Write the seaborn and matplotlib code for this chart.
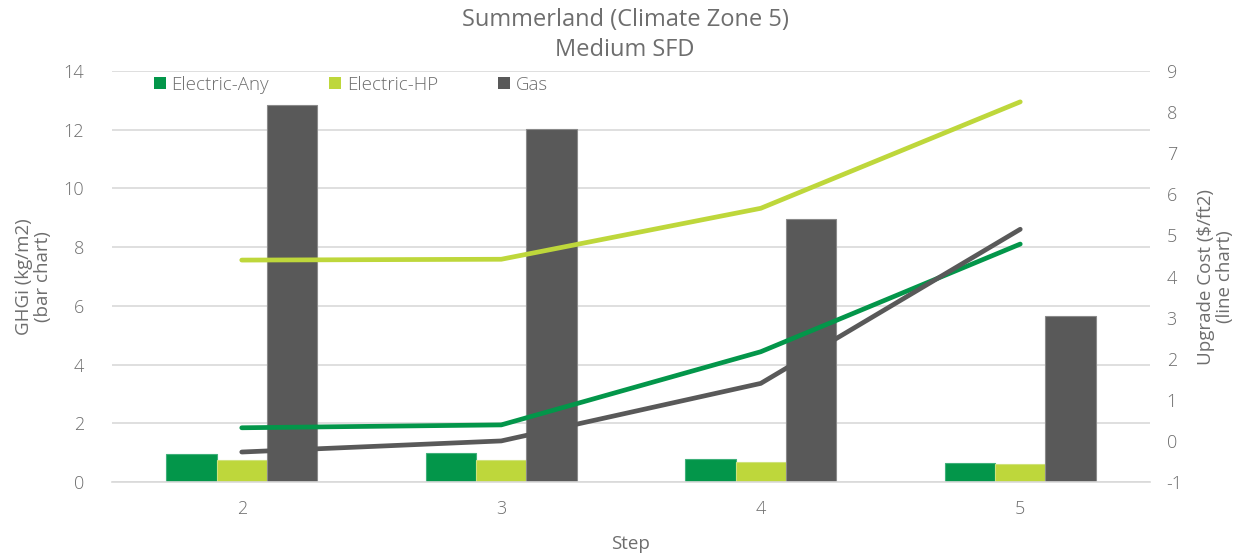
import numpy as np
import pandas as pd
import matplotlib
matplotlib.use("Agg")
import matplotlib.pyplot as plt
from matplotlib.patches import Patch
import seaborn as sns

# Step labels and series
steps = ["2", "3", "4", "5"]
series = ["Electric-Any", "Electric-HP", "Gas"]

# GHG intensity (kg/m2) - bars
ghgi_electric_any = [0.95, 0.98, 0.77, 0.64]
ghgi_electric_hp = [0.75, 0.75, 0.68, 0.60]
ghgi_gas = [12.83, 12.02, 8.95, 5.65]

# Upgrade cost ($/ft2) - lines
cost_electric_any = [0.32, 0.39, 2.17, 4.79]
cost_electric_hp = [4.40, 4.42, 5.66, 8.25]
cost_gas = [-0.27, 0.00, 1.40, 5.15]

left_ticks = [0, 2, 4, 6, 8, 10, 12, 14]
right_ticks = [-1, 0, 1, 2, 3, 4, 5, 6, 7, 8, 9]

colors = {"Electric-Any": "#03964A", "Electric-HP": "#BED73B", "Gas": "#595959"}
edge_colors = {"Electric-Any": "#3FB07A", "Electric-HP": "#CFE27A", "Gas": "#8A8A8A"}
text_color = "#6E6E6E"

sns.set_theme(style="white")
plt.rcParams["font.family"] = ["Open Sans", "DejaVu Sans"]
plt.rcParams["font.weight"] = "light"
plt.rcParams["axes.unicode_minus"] = False

bars = pd.DataFrame({
    "Step": steps * 3,
    "Series": np.repeat(series, len(steps)),
    "GHGi": ghgi_electric_any + ghgi_electric_hp + ghgi_gas,
})
lines = {
    "Electric-Any": cost_electric_any,
    "Electric-HP": cost_electric_hp,
    "Gas": cost_gas,
}

fig = plt.figure(figsize=(12.5, 5.57), dpi=100)
ax = fig.add_axes([0.0896, 0.1346, 0.8304, 0.7379])

sns.barplot(data=bars, x="Step", y="GHGi", hue="Series", order=steps,
            hue_order=series, palette=colors, width=0.58, ax=ax,
            legend=False, saturation=1)
for container, name in zip(ax.containers, series):
    for patch in container:
        patch.set_edgecolor(edge_colors[name])
        patch.set_linewidth(0.8)

ax.set_ylim(0, 14)
ax.set_yticks(left_ticks)
ax.set_xlim(-0.5, len(steps) - 0.5)
ax.yaxis.grid(True, color="#D9D9D9", linewidth=1.2)
ax.set_axisbelow(True)
for s in ["top", "left", "right"]:
    ax.spines[s].set_visible(False)
ax.spines["bottom"].set_color("#D9D9D9")
ax.spines["bottom"].set_linewidth(1.2)
ax.tick_params(axis="both", length=0, colors=text_color, labelsize=13, pad=20)
ax.tick_params(axis="x", pad=13)
ax.set_ylabel("GHGi (kg/m2)\n(bar chart)", color=text_color, fontsize=13.5,
              labelpad=8, linespacing=1.1)
ax.set_xlabel("Step", color=text_color, fontsize=13.5, labelpad=12)

ax2 = ax.twinx()
positions = np.arange(len(steps))
for name in series:
    sns.lineplot(x=positions, y=lines[name], color=colors[name], linewidth=3.4,
                 ax=ax2, solid_capstyle="round")
ax2.set_ylim(-1, 9)
ax2.set_yticks(right_ticks)
for s in ["top", "left", "right", "bottom"]:
    ax2.spines[s].set_visible(False)
ax2.tick_params(axis="y", length=0, colors=text_color, labelsize=13, pad=12)
ax2.set_ylabel("Upgrade Cost ($/ft2)\n(line chart)", color=text_color,
               fontsize=13.5, labelpad=10, linespacing=1.1)

handles = [Patch(facecolor=colors[n], edgecolor="none") for n in series]
leg = ax.legend(handles, series, loc="upper left", bbox_to_anchor=(0.024, 1.03),
                ncol=3, frameon=False, fontsize=13.5, handlelength=0.65,
                handleheight=0.65, handletextpad=0.3, columnspacing=3.2,
                labelcolor=text_color)
leg.set_zorder(10)

fig.suptitle("Summerland (Climate Zone 5)\nMedium SFD", color=text_color,
             fontsize=17, y=0.985, linespacing=1.3)

fig.savefig("out.png", dpi=100)
